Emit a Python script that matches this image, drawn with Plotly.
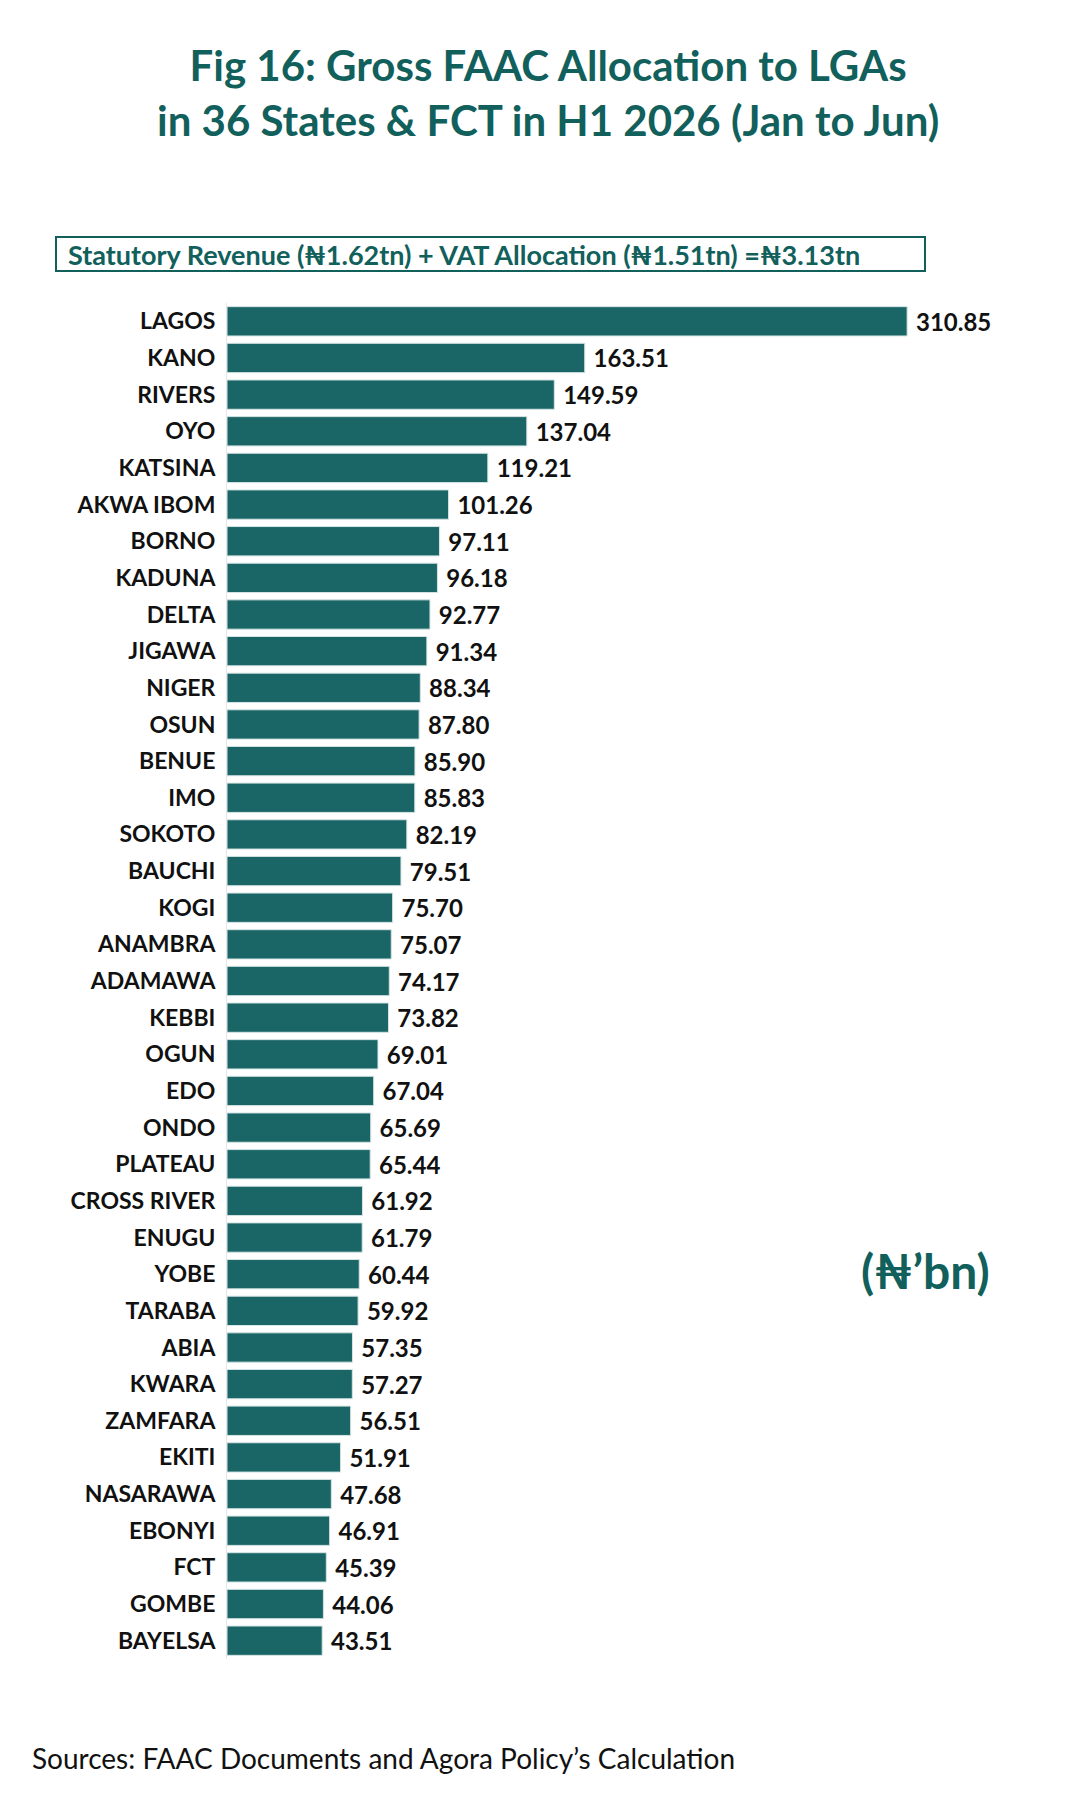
import plotly.graph_objects as go

states = ["LAGOS", "KANO", "RIVERS", "OYO", "KATSINA", "AKWA IBOM", "BORNO", "KADUNA",
          "DELTA", "JIGAWA", "NIGER", "OSUN", "BENUE", "IMO", "SOKOTO", "BAUCHI", "KOGI",
          "ANAMBRA", "ADAMAWA", "KEBBI", "OGUN", "EDO", "ONDO", "PLATEAU", "CROSS RIVER",
          "ENUGU", "YOBE", "TARABA", "ABIA", "KWARA", "ZAMFARA", "EKITI", "NASARAWA",
          "EBONYI", "FCT", "GOMBE", "BAYELSA"]
values = [310.85, 163.51, 149.59, 137.04, 119.21, 101.26, 97.11, 96.18,
          92.77, 91.34, 88.34, 87.80, 85.90, 85.83, 82.19, 79.51, 75.70,
          75.07, 74.17, 73.82, 69.01, 67.04, 65.69, 65.44, 61.92,
          61.79, 60.44, 59.92, 57.35, 57.27, 56.51, 51.91, 47.68,
          46.91, 45.39, 44.06, 43.51]

title_text = "Fig 16: Gross FAAC Allocation to LGAs<br>in 36 States & FCT in H1 2026 (Jan to Jun)"
subtitle_text = "Statutory Revenue (₦1.62tn) + VAT Allocation (₦1.51tn) =₦3.13tn"
unit_text = "(₦’bn)"
source_text = "Sources: FAAC Documents and Agora Policy’s Calculation"

TEAL = "#1a6666"
TITLE_TEAL = "#11605c"

W, H = 1080, 1800
L, R, T, B = 219, 80, 295, 149
pw = W - L - R
ph = H - T - B

def px(x):
    return (x - L) / pw

def py(y):
    return (H - B - y) / ph

fig = go.Figure()
fig.add_trace(go.Bar(
    x=values, y=states, orientation="h",
    marker=dict(color=TEAL, line=dict(color="#d5e4e4", width=1)),
    text=values, texttemplate=" %{x:.2f}", textposition="outside",
    textfont=dict(family="Lato", size=24, color="#111111", weight="bold"),
    cliponaxis=False,
))

fig.update_layout(
    width=W, height=H,
    margin=dict(l=L, r=R, t=T, b=B),
    paper_bgcolor="white", plot_bgcolor="white",
    bargap=0.2,
    showlegend=False,
    font=dict(family="Lato", color="#111111"),
    xaxis=dict(range=[0, pw / 2.188], visible=False, showgrid=False, zeroline=False),
    yaxis=dict(autorange="reversed", showgrid=False, zeroline=False, showline=True,
               linecolor="#e6e6e6", linewidth=1, ticks="", ticklabelstandoff=6,
               tickfont=dict(family="Lato", size=23, color="#111111", weight="bold")),
)

fig.add_annotation(xref="paper", yref="paper", x=px(540), y=py(84), text=title_text,
                   showarrow=False, xanchor="center", yanchor="middle",
                   font=dict(family="Lato", size=42, color=TITLE_TEAL, weight="bold"),
                   align="center")

fig.add_shape(type="rect", xref="paper", yref="paper",
              x0=px(48), x1=px(917), y0=py(263), y1=py(229),
              line=dict(color=TITLE_TEAL, width=2), fillcolor="white")
fig.add_annotation(xref="paper", yref="paper", x=px(58), y=py(246), text=subtitle_text,
                   showarrow=False, xanchor="left", yanchor="middle",
                   font=dict(family="Lato", size=27, color=TITLE_TEAL, weight="bold"))

fig.add_annotation(xref="paper", yref="paper", x=px(917), y=py(1262), text=unit_text,
                   showarrow=False, xanchor="center", yanchor="middle",
                   font=dict(family="Lato", size=48, color=TITLE_TEAL, weight="bold"))

fig.add_annotation(xref="paper", yref="paper", x=px(22), y=py(1750), text=source_text,
                   showarrow=False, xanchor="left", yanchor="middle",
                   font=dict(family="Lato", size=28, color="#111111"))

fig.write_html("out.html")
